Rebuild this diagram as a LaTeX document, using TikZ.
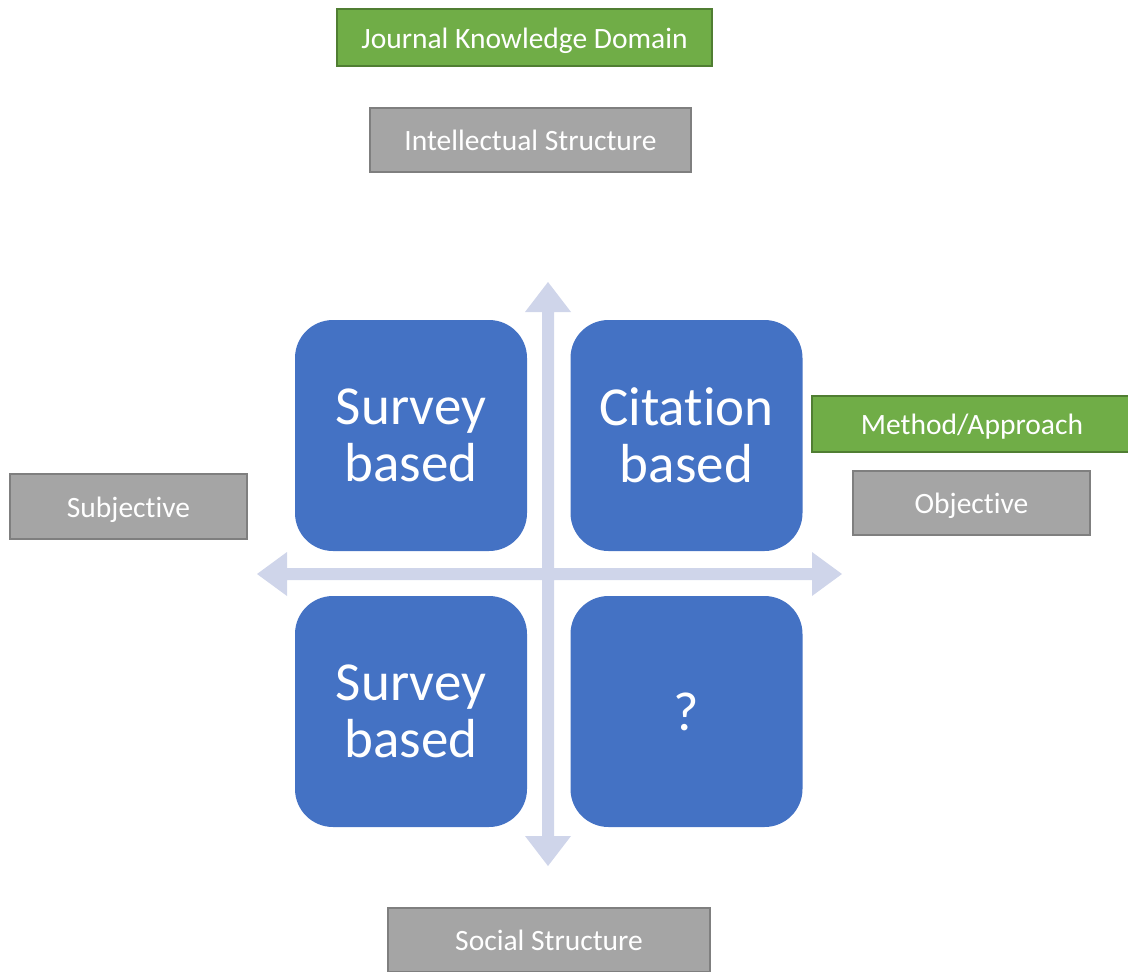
\documentclass[tikz,border=0pt]{standalone}
\usepackage{fontspec}
\setmainfont{Carlito}[Ligatures=NoCommon]
\definecolor{greenfill}{HTML}{70AD47}
\definecolor{greenedge}{HTML}{507E32}
\definecolor{grayfill}{HTML}{A5A5A5}
\definecolor{grayedge}{HTML}{7F7F7F}
\definecolor{quadfill}{HTML}{4472C4}
\definecolor{axisfill}{HTML}{CFD5EA}
\tikzset{
  tagbox/.style={line width=2pt, text=white, inner sep=0pt,
    font=\fontsize{29.5}{33}\selectfont, text height=27pt, text depth=6pt},
  greenbox/.style={tagbox, draw=greenedge, fill=greenfill},
  graybox/.style={tagbox, draw=grayedge, fill=grayfill},
  quad/.style={fill=quadfill, text=white, rounded corners=38pt, inner sep=0pt,
    minimum width=232pt, minimum height=231pt, align=center,
    font=\fontsize{55}{57}\selectfont},
}
\begin{document}
\begin{tikzpicture}[x=1pt,y=-1pt]
\useasboundingbox (0,0) rectangle (1128,972);

% four-way axis cross
\coordinate (hub) at (548,574);
\begin{scope}[shift={(hub)}]
\fill[axisfill] (0,-292) -- (23,-262) -- (6,-262) -- (6,-6) -- (264,-6)
  -- (264,-22) -- (294,0) -- (264,22) -- (264,6) -- (6,6) -- (6,262)
  -- (23,262) -- (0,292) -- (-23,262) -- (-6,262) -- (-6,6) -- (-261,6)
  -- (-261,22) -- (-291,0) -- (-261,-22) -- (-261,-6) -- (-6,-6)
  -- (-6,-262) -- (-23,-262) -- cycle;
\end{scope}

% quadrants
\node[quad] (tl) at (411,435.5) {Survey\\based};
\node[quad] (tr) at (686.5,435.5) {Citation\\based};
\node[quad] (bl) at (411,711.5) {Survey\\based};
\node[quad] (br) at (686.5,711.5) {?};

% axis labels
\node[greenbox, minimum width=375pt, minimum height=57pt] (domain) at (524.5,37.5) {Journal Knowledge Domain};
\node[graybox, minimum width=321pt, minimum height=64pt] (intel) at (530.5,140) {Intellectual Structure};
\node[greenbox, minimum width=320pt, minimum height=56pt] (method) at (972,424) {Method/Approach};
\node[graybox, minimum width=237pt, minimum height=64pt] (objective) at (971.5,503) {Objective};
\node[graybox, minimum width=237pt, minimum height=65pt] (subjective) at (128.5,506.5) {Subjective};
\node[graybox, minimum width=322pt, minimum height=64pt] (social) at (549,940) {Social Structure};
\end{tikzpicture}
\end{document}
